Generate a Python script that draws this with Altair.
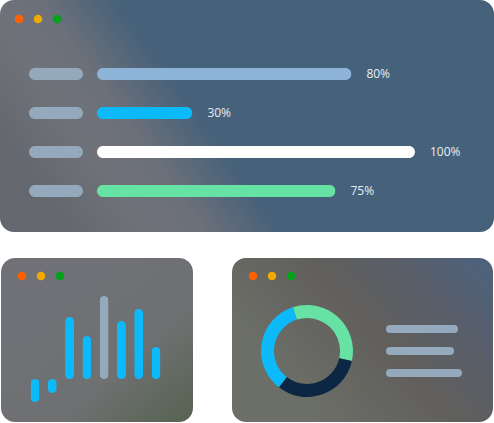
import altair as alt
import pandas as pd

# ---- data ----
rows = ["A", "B", "C", "D"]
progress = [80, 30, 100, 75]
progress_labels = ["80%", "30%", "100%", "75%"]

bar_index = [1, 2, 3, 4, 5, 6, 7, 8]
bar_values = [-23, -14, 62, 43, 83, 58, 70, 32]
highlight_bar = 5

donut_segments = ["green", "navy", "blue"]
donut_shares = [33.5, 32.0, 34.5]

# ---- styles ----
W, H = 494, 423
PLACE = "#94A9BB"
BLUE = "#0DBAF9"
prog_colors = ["#8DB4D8", BLUE, "#FFFFFF", "#66E2A4"]
donut_colors = ["#66E2A4", "#0B2743", BLUE]
dot_colors = ["#FF6100", "#F0AA00", "#00A31A"]

one = pd.DataFrame({"k": [0]})


def panel(x0, x1, y0, y1, grad):
    return alt.Chart(one).mark_rect(cornerRadius=14, fill=grad).encode(
        x=alt.value(x0), x2=alt.value(x1), y=alt.value(y0), y2=alt.value(y1)
    )


def dots(x0, y):
    out = []
    for i, c in enumerate(dot_colors):
        out.append(
            alt.Chart(one).mark_circle(size=72, opacity=1, color=c).encode(
                x=alt.value(x0 + 19 * i), y=alt.value(y)
            )
        )
    return out


top_grad = alt.LinearGradient(
    gradient="linear",
    stops=[
        alt.GradientStop(offset=0, color="#64676E"),
        alt.GradientStop(offset=0.25, color="#6F7279"),
        alt.GradientStop(offset=0.42, color="#6C7079"),
        alt.GradientStop(offset=0.66, color="#46617A"),
        alt.GradientStop(offset=1, color="#46617A"),
    ],
    x1=0, y1=0.6, x2=0.6, y2=0.4,
)
bl_grad = alt.LinearGradient(
    gradient="linear",
    stops=[
        alt.GradientStop(offset=0, color="#707176"),
        alt.GradientStop(offset=0.5, color="#6E7071"),
        alt.GradientStop(offset=1, color="#566350"),
    ],
    x1=0.3, y1=0.3, x2=1, y2=1,
)
br_grad = alt.LinearGradient(
    gradient="linear",
    stops=[
        alt.GradientStop(offset=0, color="#6C6F68"),
        alt.GradientStop(offset=0.45, color="#615F5C"),
        alt.GradientStop(offset=0.75, color="#585E6A"),
        alt.GradientStop(offset=1, color="#4E627C"),
    ],
    x1=0.1, y1=0.6, x2=1, y2=0.1,
)

layers = [
    panel(0, 494, 0, 232, top_grad),
    panel(1, 193, 258, 422, bl_grad),
    panel(232, 493, 258, 422, br_grad),
]
layers += dots(19, 19) + dots(22, 276) + dots(253, 276)

# ---- progress bars ----
prog_df = pd.DataFrame({"row": rows, "value": progress, "label": progress_labels})
yrow = alt.Y("row:N", axis=None,
             scale=alt.Scale(type="point", domain=rows, range=[74, 191], padding=0))
xprog = alt.X("value:Q", axis=None,
              scale=alt.Scale(domain=[0, 100], range=[97, 415], nice=False))

placeholders = alt.Chart(prog_df).mark_bar(height=12, cornerRadius=6, color=PLACE).encode(
    x=alt.value(29), x2=alt.value(83), y=yrow
)
prog_bars = alt.Chart(prog_df).mark_bar(height=12, cornerRadius=6).encode(
    x=xprog, y=yrow,
    color=alt.Color("row:N", legend=None,
                    scale=alt.Scale(domain=rows, range=prog_colors)),
)
prog_text = alt.Chart(prog_df).mark_text(
    align="left", baseline="middle", dx=15, font="Open Sans", fontSize=12, color="#E9EEF3"
).encode(x=xprog, y=yrow, text="label:N")

layers += [placeholders, prog_bars, prog_text]

# ---- vertical bars ----
vb_df = pd.DataFrame({"i": bar_index, "v": bar_values})
vbars = alt.Chart(vb_df).mark_bar(width=9, cornerRadius=4.5).encode(
    x=alt.X("i:Q", axis=None, scale=alt.Scale(domain=[1, 8], range=[30, 161], nice=False, zero=False)),
    y=alt.Y("v:Q", axis=None, scale=alt.Scale(domain=[0, 100], range=[379, 279], nice=False)),
    color=alt.condition(alt.datum.i == highlight_bar, alt.value(PLACE), alt.value(BLUE)),
)
layers.append(vbars)

# ---- donut ----
d_df = pd.DataFrame({"seg": donut_segments, "share": donut_shares, "ord": [0, 1, 2]})
donut = alt.Chart(d_df).mark_arc(radius=46, radius2=33, x=307, y=351).encode(
    theta=alt.Theta("share:Q", stack=True, scale=alt.Scale(range=[5.969, 12.252])),
    color=alt.Color("seg:N", legend=None,
                    scale=alt.Scale(domain=donut_segments, range=donut_colors)),
    order=alt.Order("ord:Q"),
)
layers.append(donut)

# ---- legend lines ----
for (xa, xb, yy) in [(390, 454, 329), (390, 450, 351), (390, 458, 373)]:
    layers.append(
        alt.Chart(one).mark_rule(strokeWidth=8, strokeCap="round", color=PLACE).encode(
            x=alt.value(xa), x2=alt.value(xb), y=alt.value(yy)
        )
    )

chart = alt.layer(*layers).resolve_scale(
    x="independent", y="independent", color="independent", theta="independent"
).properties(
    width=W, height=H, padding=0, background="white",
    autosize=alt.AutoSizeParams(type="none"),
).configure_view(stroke="transparent")

chart.save("out.html", embed_options={"renderer": "svg", "actions": False})
